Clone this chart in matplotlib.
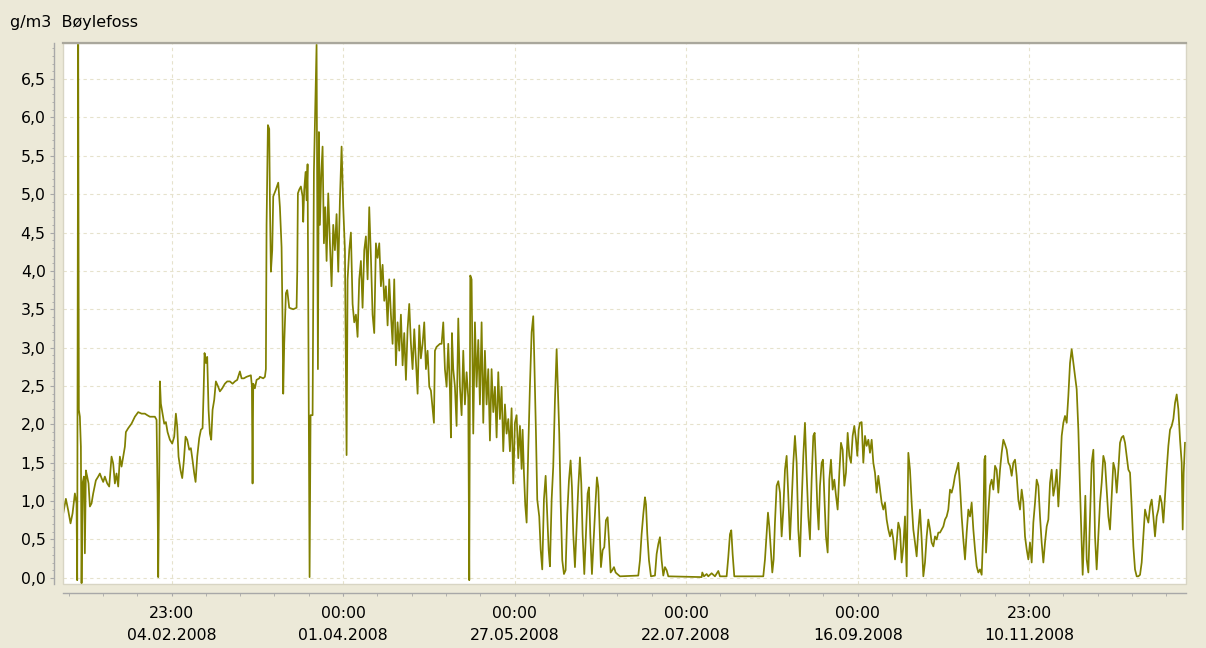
import numpy as np
import matplotlib
matplotlib.use("Agg")
import matplotlib.pyplot as plt
from matplotlib.patches import Rectangle

# readings: days since 01.01.2008 00:00, concentration in g/m3
days_jan_may = [
    -0.43, 0.44, 1.2, 1.96, 2.62, 3.38, 3.92, 4.14, 4.46, 4.68,
    5.01, 5.34, 5.56, 5.88, 6.32, 6.64, 6.97, 7.4, 7.84, 8.28,
    8.82, 9.36, 10.23, 11.0, 11.54, 12.09, 12.63, 13.17, 13.94, 14.59,
    15.35, 15.89, 16.44, 16.98, 17.53, 18.07, 18.62, 19.16, 19.71, 20.03,
    20.79, 21.88, 22.97, 24.06, 25.15, 26.24, 27.0, 27.87, 28.74, 29.5,
    30.05, 30.38, 30.59, 30.92, 31.14, 31.46, 32.01, 32.55, 33.1, 33.64,
    34.4, 35.16, 35.82, 36.36, 36.8, 37.23, 37.89, 38.43, 38.97, 39.52,
    40.06, 40.72, 41.26, 41.81, 42.35, 42.79, 43.33, 43.98, 44.53, 45.07,
    45.4, 45.72, 46.16, 46.59, 47.03, 47.47, 47.9, 48.34, 48.88, 49.42,
    50.18, 50.73, 51.49, 52.36, 53.12, 54.0, 54.87, 55.63, 56.39, 57.26,
    57.81, 58.57, 59.44, 60.2, 60.85, 61.18, 61.4, 61.62, 62.16, 62.71,
    63.58, 63.79, 64.88, 65.43, 65.75, 65.97, 66.41, 66.84, 67.06, 67.39,
]
conc_jan_may = [
    0.84, 1.03, 0.88, 0.71, 0.84, 1.1, 0.97, -0.03, 7.2, 2.19,
    2.1, 1.71, -0.07, 1.23, 1.32, 0.32, 1.4, 1.32, 1.23, 0.93,
    0.97, 1.1, 1.27, 1.32, 1.36, 1.3, 1.25, 1.32, 1.23, 1.19,
    1.58, 1.49, 1.23, 1.36, 1.19, 1.58, 1.45, 1.58, 1.71, 1.9,
    1.95, 2.01, 2.1, 2.16, 2.14, 2.14, 2.12, 2.1, 2.1, 2.1,
    2.06, 1.1, 0.01, 1.32, 2.56, 2.27, 2.14, 2.01, 2.03, 1.9,
    1.8, 1.75, 1.84, 2.14, 1.97, 1.58, 1.4, 1.3, 1.53, 1.84,
    1.8, 1.67, 1.69, 1.53, 1.36, 1.25, 1.58, 1.82, 1.93, 1.95,
    2.4, 2.93, 2.8, 2.88, 2.19, 1.88, 1.8, 2.19, 2.32, 2.56,
    2.49, 2.43, 2.47, 2.53, 2.56, 2.56, 2.53, 2.56, 2.58, 2.69,
    2.6, 2.6, 2.62, 2.63, 2.64, 2.5, 1.23, 2.53, 2.47, 2.58,
    2.6, 2.62, 2.6, 2.62, 2.72, 4.6, 5.9, 5.85, 4.92, 3.99,
]

days_mar_may = [
    67.82, 68.15, 69.02, 69.78, 70.33, 70.87, 71.2, 71.41, 71.74, 72.29,
    72.72, 73.37, 74.68, 75.77, 75.99, 76.2, 76.64, 77.18, 77.73, 77.94,
    78.27, 78.71, 79.04, 79.36, 79.69, 80.02, 80.34, 81.0, 81.43, 81.86,
    82.3, 82.74, 83.06, 83.39, 83.82, 84.26, 84.7, 85.13, 85.57, 86.11,
    86.66, 87.2, 87.74, 88.29, 88.83, 89.38, 89.92, 90.47, 91.01, 91.56,
    92.1, 92.43, 92.97, 93.51, 94.06, 94.6, 95.15, 95.69, 96.23, 96.78,
    97.32, 97.87, 98.41, 98.96, 99.5, 100.05, 100.59, 101.13, 101.68, 102.22,
    102.77, 103.31, 103.86, 104.4, 104.94, 105.49, 106.03, 106.58, 107.12, 107.66,
    108.21, 108.75, 109.3, 109.84, 110.39, 110.93, 111.48, 112.02, 112.56, 113.11,
    113.65, 114.2, 114.74, 115.29, 115.83, 116.37, 116.92, 117.46, 118.01, 118.55,
    119.1, 119.64, 120.19, 120.62, 120.95, 121.49, 122.58, 123.13, 123.67, 124.21,
    124.76, 125.3, 125.85, 126.17, 126.5, 126.93, 127.48, 128.02, 128.57, 129.11,
    129.66, 130.2, 130.74, 131.29, 131.83, 132.16, 132.49, 132.92, 133.46, 134.01,
    134.55, 135.1, 135.64, 136.19, 136.73, 137.27, 137.82, 138.36, 138.91, 139.45,
    140.0, 140.54, 141.09, 141.63, 142.17, 142.72, 143.26, 143.81, 144.35, 144.9,
    145.44, 145.98, 146.53, 147.07, 147.62, 148.16, 148.71, 149.25, 149.58, 150.01,
]
conc_mar_may = [
    4.27, 4.97, 5.06, 5.15, 4.83, 4.31, 3.33, 2.4, 3.05, 3.71,
    3.75, 3.52, 3.5, 3.52, 3.99, 5.01, 5.06, 5.1, 4.97, 4.64,
    5.06, 5.29, 4.92, 5.39, 2.72, 0.01, 2.12, 2.12, 5.29, 6.14,
    6.95, 2.72, 5.81, 4.6, 5.25, 5.62, 4.36, 4.83, 4.13, 5.01,
    4.36, 3.8, 4.6, 4.27, 4.74, 3.99, 4.92, 5.62, 4.83, 4.27,
    1.6, 3.89, 4.27, 4.5, 3.57, 3.33, 3.43, 3.14, 3.89, 4.13,
    3.52, 4.27, 4.45, 3.89, 4.83, 4.17, 3.43, 3.19, 4.36, 4.17,
    4.36, 3.8, 4.08, 3.61, 3.8, 3.29, 3.89, 3.43, 3.05, 3.89,
    2.77, 3.33, 2.96, 3.43, 2.77, 3.19, 2.58, 3.24, 3.57, 3.05,
    2.72, 3.24, 2.82, 2.4, 3.29, 2.86, 3.05, 3.33, 2.72, 2.96,
    2.49, 2.44, 2.21, 2.02, 2.96, 3.01, 3.05, 3.05, 3.33, 2.72,
    2.49, 3.05, 2.44, 1.83, 3.19, 2.72, 2.49, 1.98, 3.38, 2.49,
    2.12, 2.96, 2.26, 2.68, 2.35, -0.03, 3.94, 3.89, 1.88, 3.33,
    2.49, 3.1, 2.26, 3.33, 2.02, 2.96, 2.26, 2.72, 1.79, 2.72,
    2.16, 2.49, 1.83, 2.68, 2.07, 2.49, 1.65, 2.26, 1.88, 2.07,
    1.65, 2.21, 1.23, 2.02, 2.12, 1.56, 1.98, 1.42, 1.93, 1.37,
]

days_jun_aug = [
    150.44, 150.89, 151.42, 151.97, 152.52, 153.05, 153.37, 153.93, 154.36, 155.01,
    155.47, 155.99, 156.54, 157.1, 157.52, 158.08, 158.5, 159.06, 159.58, 160.14,
    160.69, 161.12, 161.55, 161.99, 162.53, 163.08, 163.62, 164.16, 164.71, 165.25,
    165.69, 166.12, 166.67, 167.21, 167.76, 168.3, 168.74, 169.17, 169.72, 170.26,
    170.81, 171.24, 171.68, 172.22, 172.77, 173.31, 173.85, 174.29, 174.73, 175.16,
    175.71, 176.25, 176.79, 177.34, 177.77, 178.32, 178.86, 179.41, 179.95, 180.49,
    181.37, 187.35, 187.9, 188.44, 188.99, 189.53, 189.86, 190.29, 190.84, 191.49,
    192.8, 193.34, 193.89, 194.43, 194.97, 195.52, 196.06, 196.61, 197.15, 208.04,
    208.25, 208.8, 209.67, 210.21, 211.3, 212.39, 213.48, 214.02, 216.2, 216.74,
    217.29, 217.72, 218.16, 218.7, 228.17,
]
conc_jun_aug = [
    0.95, 0.72, 1.67, 2.5, 3.2, 3.41, 2.89, 1.9, 1.02, 0.8,
    0.37, 0.11, 1.02, 1.33, 0.93, 0.37, 0.15, 1.02, 1.45, 2.32,
    2.98, 2.44, 1.88, 1.0, 0.23, 0.05, 0.1, 0.83, 1.27, 1.53,
    1.18, 0.57, 0.14, 0.66, 1.18, 1.57, 1.23, 0.57, 0.05, 0.57,
    1.1, 1.18, 0.57, 0.05, 0.49, 0.92, 1.31, 1.18, 0.66, 0.14,
    0.36, 0.4, 0.75, 0.79, 0.49, 0.07, 0.1, 0.14, 0.07, 0.05,
    0.02, 0.03, 0.23, 0.57, 0.83, 1.05, 0.96, 0.57, 0.23, 0.02,
    0.03, 0.31, 0.44, 0.53, 0.23, 0.03, 0.14, 0.1, 0.02, 0.01,
    0.07, 0.02, 0.05, 0.02, 0.06, 0.02, 0.09, 0.02, 0.02, 0.27,
    0.57, 0.62, 0.31, 0.02, 0.02,
]

days_aug_oct = [
    228.72, 229.27, 229.7, 230.13, 230.57, 231.11, 231.55, 231.98, 232.53, 233.07,
    233.62, 234.16, 234.7, 235.25, 235.79, 236.34, 236.88, 237.43, 237.97, 238.51,
    239.06, 239.6, 240.15, 240.69, 241.24, 241.78, 242.32, 242.87, 243.41, 243.96,
    244.5, 244.94, 245.37, 245.81, 246.24, 246.68, 247.23, 247.66, 248.1, 248.64,
    249.19, 249.73, 250.27, 250.82, 251.36, 251.91, 252.45, 253.0, 253.54, 254.08,
    254.63, 255.17, 255.72, 256.26, 256.81, 257.35, 257.89, 258.44, 258.87, 259.31,
    259.74, 260.29, 260.83, 261.38, 261.92, 262.47, 263.01, 263.56, 264.1, 264.64,
    265.19, 265.73, 266.28, 266.82, 267.37, 267.91, 268.45, 269.0, 269.54, 270.09,
    270.63, 271.18, 271.72, 272.26, 272.81, 273.35, 273.9, 274.44, 274.99, 275.53,
    276.07, 276.62, 277.16, 277.71, 278.25, 278.8, 279.34, 279.89, 280.43, 280.97,
    281.52, 282.06, 282.61, 283.15, 283.7, 284.24, 284.78, 285.33, 285.87, 286.42,
    286.96, 287.51, 288.05, 288.59, 289.14, 289.68, 290.23, 290.77, 291.32, 291.86,
    292.4,
]
conc_aug_oct = [
    0.24, 0.59, 0.85, 0.67, 0.41, 0.07, 0.24, 0.72, 1.2, 1.26,
    1.11, 0.54, 0.89, 1.41, 1.59, 1.07, 0.5, 0.98, 1.5, 1.85,
    1.5, 0.63, 0.28, 0.98, 1.59, 2.02, 1.37, 0.8, 0.5, 1.28,
    1.85, 1.89, 1.46, 0.93, 0.63, 1.2, 1.5, 1.54, 1.07, 0.54,
    0.33, 1.28, 1.54, 1.15, 1.28, 1.07, 0.89, 1.37, 1.76, 1.67,
    1.2, 1.37, 1.89, 1.59, 1.5, 1.85, 1.98, 1.8, 1.59, 1.93,
    2.02, 2.03, 1.5, 1.85, 1.72, 1.8, 1.63, 1.8, 1.5, 1.37,
    1.11, 1.33, 1.15, 0.98, 0.89, 0.98, 0.76, 0.63, 0.54, 0.63,
    0.5, 0.24, 0.46, 0.72, 0.63, 0.2, 0.41, 0.8, 0.02, 1.63,
    1.41, 0.98, 0.63, 0.46, 0.28, 0.63, 0.89, 0.5, 0.02, 0.2,
    0.54, 0.76, 0.63, 0.46, 0.41, 0.54, 0.5, 0.59, 0.59, 0.63,
    0.67, 0.76, 0.8, 0.89, 1.15, 1.11, 1.2, 1.33, 1.41, 1.5,
    1.2,
]

days_oct_dec = [
    292.95, 293.49, 294.04, 294.58, 295.13, 295.67, 296.21, 296.76, 297.3, 297.85,
    298.39, 298.94, 299.48, 300.02, 300.35, 300.68, 300.9, 301.33, 301.77, 302.2,
    302.75, 303.29, 303.84, 304.38, 304.92, 305.47, 306.01, 306.56, 307.1, 307.65,
    308.19, 308.73, 309.28, 309.82, 310.37, 310.91, 311.45, 312.0, 312.54, 313.09,
    313.63, 314.18, 314.72, 315.26, 315.81, 316.35, 316.9, 317.44, 317.99, 318.53,
    319.07, 319.62, 320.16, 320.71, 321.25, 321.8, 322.34, 322.88, 323.43, 323.97,
    324.52, 325.06, 325.61, 326.15, 326.69, 327.24, 327.78, 328.33, 328.87, 329.42,
    329.96, 330.5, 331.05, 331.59, 332.14, 332.46, 332.9, 333.33, 333.77, 334.31,
    334.86, 335.4, 335.95, 336.49, 337.03, 337.58, 338.12, 338.67, 339.21, 339.76,
    340.3, 340.84, 341.39, 341.93, 342.48, 343.02, 343.57, 344.11, 344.65, 345.2,
    345.74, 346.29, 346.83, 347.38, 347.92, 348.46, 349.01, 349.55, 350.1, 350.64,
    351.19, 351.73, 352.27, 352.82, 353.36, 353.91, 354.45, 355.0, 355.54, 356.08,
    356.63, 357.17, 357.72, 358.26, 358.81, 359.35, 359.89, 360.44, 360.98, 361.53,
    362.07, 362.62, 363.16, 363.7, 364.25, 364.79, 365.12, 365.44, 365.88,
]
conc_oct_dec = [
    0.8, 0.5, 0.24, 0.59, 0.89, 0.8, 0.98, 0.63, 0.37, 0.15,
    0.07, 0.11, 0.04, 0.63, 1.54, 1.59, 0.33, 0.63, 0.93, 1.2,
    1.28, 1.15, 1.46, 1.41, 1.11, 1.41, 1.63, 1.8, 1.74, 1.67,
    1.5, 1.46, 1.33, 1.5, 1.54, 1.33, 1.02, 0.89, 1.15, 0.98,
    0.54, 0.37, 0.24, 0.46, 0.2, 0.72, 0.98, 1.28, 1.2, 0.8,
    0.46, 0.2, 0.46, 0.67, 0.76, 1.24, 1.41, 1.07, 1.2, 1.41,
    0.93, 1.33, 1.85, 2.02, 2.11, 2.02, 2.37, 2.8, 2.98, 2.8,
    2.63, 2.46, 1.93, 1.15, 0.46, 0.04, 0.54, 1.07, 0.24, 0.07,
    0.8, 1.5, 1.67, 0.54, 0.11, 0.54, 0.98, 1.24, 1.59, 1.5,
    1.15, 0.8, 0.63, 1.07, 1.5, 1.41, 1.11, 1.41, 1.76, 1.83,
    1.85, 1.76, 1.59, 1.41, 1.37, 0.93, 0.41, 0.11, 0.02, 0.02,
    0.04, 0.2, 0.54, 0.89, 0.8, 0.72, 0.93, 1.02, 0.8, 0.54,
    0.8, 0.89, 1.07, 0.98, 0.72, 1.07, 1.41, 1.72, 1.93, 1.98,
    2.07, 2.28, 2.39, 2.2, 1.8, 1.5, 0.63, 1.37, 1.76,
]

# x axis labels (day numbers of the labelled ticks)
tick_days = [34.958, 91.0, 147.0, 203.0, 259.0, 314.958]
tick_labels = ["23:00\n04.02.2008", "00:00\n01.04.2008", "00:00\n27.05.2008",
               "00:00\n22.07.2008", "00:00\n16.09.2008", "23:00\n10.11.2008"]
y_ticks = [0.0, 0.5, 1.0, 1.5, 2.0, 2.5, 3.0, 3.5, 4.0, 4.5, 5.0, 5.5, 6.0, 6.5]

days = np.concatenate([days_jan_may, days_mar_may, days_jun_aug, days_aug_oct, days_oct_dec])
conc = np.concatenate([conc_jan_may, conc_mar_may, conc_jun_aug, conc_aug_oct, conc_oct_dec])

bg = "#ECE9D8"
axis_grey = "#a8a8a8"
plt.rcParams["font.family"] = "DejaVu Sans"

fig = plt.figure(figsize=(12.06, 6.48), dpi=100, facecolor=bg)
ax = fig.add_axes([63 / 1206, 1 - 584 / 648, 1123 / 1206, 541 / 648])
ax.set_facecolor("white")

ax.plot(days, conc, color="#808000", lw=1.25, zorder=3)

ax.set_xlim(-0.5, 366.2)
ax.set_ylim(-0.08, 6.97)

# axes lines sit a little outside the white plot area (offset is in points)
for side in ["top", "right"]:
    ax.spines[side].set_visible(False)
for side in ["left", "bottom"]:
    ax.spines[side].set_position(("outward", 6.5))
    ax.spines[side].set_color(axis_grey)
    ax.spines[side].set_linewidth(1)

ax.set_yticks(y_ticks)
ax.set_yticklabels([f"{v:.1f}".replace(".", ",") for v in y_ticks])
ax.set_yticks(np.arange(0, 7.0, 0.1), minor=True)

ax.set_xticks(tick_days)
ax.set_xticklabels(tick_labels, linespacing=1.6)
ax.set_xticks(np.arange(tick_days[0] - 3 * 11.2, 366, 11.2), minor=True)

ax.tick_params(axis="both", which="both", colors=axis_grey, labelcolor="black",
               labelsize=11.3, direction="out")
ax.tick_params(axis="y", which="major", length=3, pad=3)
ax.tick_params(axis="y", which="minor", length=1.5)
ax.tick_params(axis="x", which="both", length=2.5, pad=7)

ax.grid(True, which="major", color="#e6e2cc", linestyle=(0, (3, 3)), lw=0.8, zorder=1)

# frame of the plot area
ax.add_patch(Rectangle((0, 0), 1, 1, transform=ax.transAxes, fill=False,
                       ec="#d8d5c4", lw=1, clip_on=False, zorder=4))
ax.plot([0, 1], [1, 1], transform=ax.transAxes, color="#a9a79c", lw=1.6,
        clip_on=False, zorder=5)

fig.text(10 / 1206, 1 - 22 / 648, "g/m3  Bøylefoss", fontsize=11.5, va="center", ha="left")

fig.savefig("out.png", dpi=100, facecolor=bg)
